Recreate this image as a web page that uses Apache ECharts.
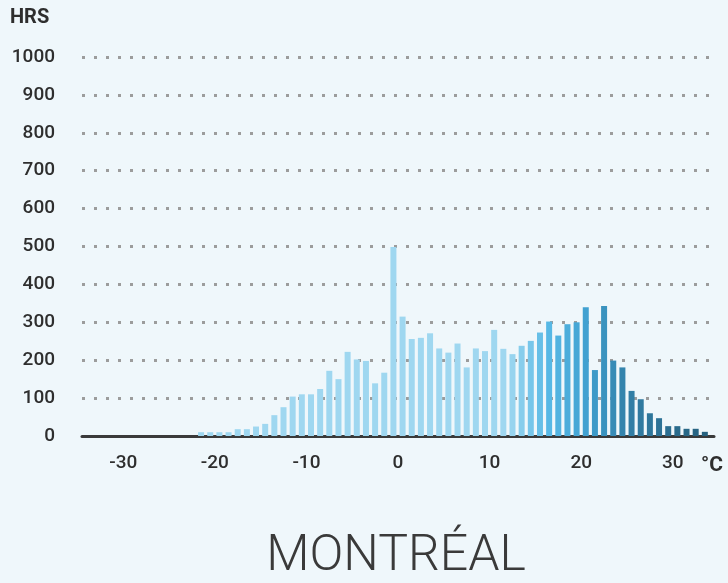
<!DOCTYPE html>
<html>
<head>
<meta charset="utf-8">
<title>Montréal</title>
<script src="https://cdn.jsdelivr.net/npm/echarts@6/dist/echarts.min.js"></script>
<style>
    html, body { margin: 0; padding: 0; background: #eff7fb; }
    #chartContainer { width: 728px; height: 583px; }
</style>
</head>
<body>
<div id="chartContainer"></div>
<script>
// hours per 1 degree bin, bins centred on the half degree
const temps = [
    -21.5, -20.5, -19.5, -18.5, -17.5, -16.5, -15.5, -14.5, -13.5, -12.5,
    -11.5, -10.5, -9.5, -8.5, -7.5, -6.5, -5.5, -4.5, -3.5, -2.5,
    -1.5, -0.5, 0.5, 1.5, 2.5, 3.5, 4.5, 5.5, 6.5, 7.5,
    8.5, 9.5, 10.5, 11.5, 12.5, 13.5, 14.5, 15.5, 16.5, 17.5,
    18.5, 19.5, 20.5, 21.5, 22.5, 23.5, 24.5, 25.5, 26.5, 27.5,
    28.5, 29.5, 30.5, 31.5, 32.5, 33.5
];
const hours = [
    10, 10, 10, 10, 18, 18, 25, 32, 55, 76,
    104, 110, 110, 124, 172, 150, 222, 202, 198, 139,
    167, 499, 315, 256, 259, 271, 231, 220, 244, 181,
    231, 224, 280, 230, 216, 238, 251, 273, 302, 265,
    295, 300, 340, 174, 343, 199, 181, 119, 97, 60,
    47, 26, 26, 19, 19, 11
];
const xTicks = [-30, -20, -10, 0, 10, 20, 30];
const city = 'MONTRÉAL';

let dom = document.getElementById('chartContainer');
let myChart = echarts.init(dom);

const labelFont = 'Roboto, "DejaVu Sans", sans-serif';

let option = {
    backgroundColor: '#eff7fb',
    animation: false,
    grid: {
        left: 82,
        right: 14,
        top: 57,
        bottom: 147
    },
    // bars get darker as it gets warmer
    visualMap: {
        show: false,
        type: 'continuous',
        dimension: 0,
        seriesIndex: 0,
        min: 12,
        max: 34,
        inRange: {
            color: ['#9fd7f0', '#58b9e5', '#3f9fcf', '#327fa6', '#2b6e90', '#255f7c']
        }
    },
    xAxis: {
        type: 'value',
        min: -34.5,
        max: 34.5,
        axisLine: {
            show: true,
            onZero: false,
            lineStyle: { color: '#3a3a3a', width: 3 }
        },
        axisTick: { show: false },
        splitLine: { show: false },
        axisLabel: {
            customValues: xTicks,
            margin: 18,
            color: '#2e2e2e',
            fontFamily: labelFont,
            fontSize: 19,
            fontWeight: 500
        }
    },
    yAxis: {
        type: 'value',
        min: 0,
        max: 1000,
        interval: 100,
        axisLine: { show: false },
        axisTick: { show: false },
        axisLabel: {
            margin: 27,
            color: '#2e2e2e',
            fontFamily: labelFont,
            fontSize: 19,
            fontWeight: 500,
            formatter: function (v) { return String(v); }
        },
        splitLine: {
            lineStyle: {
                color: '#9c9c9c',
                width: 3,
                type: [3, 9]
            }
        }
    },
    series: [
        {
            type: 'bar',
            barWidth: 6,
            data: temps.map(function (t, i) { return [t, hours[i]]; })
        }
    ],
    graphic: [
        {
            type: 'text',
            left: 10,
            top: 8,
            style: {
                text: 'HRS',
                fill: '#2e2e2e',
                font: 'bold 20px ' + labelFont
            }
        },
        {
            type: 'text',
            left: 701,
            top: 455,
            style: {
                text: '°C',
                fill: '#2e2e2e',
                font: 'bold 21px ' + labelFont
            }
        },
        {
            type: 'text',
            x: 396,
            y: 557,
            style: {
                text: city,
                fill: '#3a3a3a',
                font: '300 50px ' + labelFont,
                textAlign: 'center',
                textVerticalAlign: 'middle'
            }
        }
    ]
};

myChart.setOption(option);
</script>
</body>
</html>
